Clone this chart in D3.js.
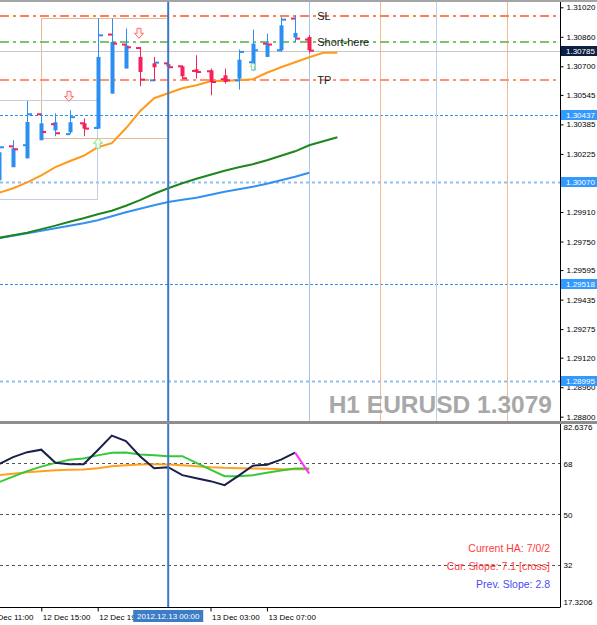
<!DOCTYPE html>
<html>
<head>
<meta charset="utf-8">
<title>H1 EURUSD</title>
<script src="https://cdn.jsdelivr.net/npm/d3@7/dist/d3.min.js"></script>
<style>
  body { margin: 0; background: #fff; }
  svg { display: block; font-family: 'Liberation Sans', Arial, sans-serif; }
</style>
</head>
<body>
<div id="chart"></div>
<script>
// ---
// Data
// ---
const title = 'H1 EURUSD 1.3079'
const firstBar = new Date(Date.UTC(2012, 11, 12, 12))

// price bars, 12 Dec 12:00 .. 13 Dec 10:00
const opens = [1.30163, 1.30266, 1.30272, 1.30440, 1.30386, 1.30332, 1.30391, 1.30366, 1.30872, 1.30818, 1.30799, 1.30624, 1.30716, 1.30700, 1.30675, 1.30673, 1.30630, 1.30624, 1.30722, 1.30823, 1.30787, 1.30959, 1.30845]
const highs = [1.30272, 1.30299, 1.30512, 1.30445, 1.30445, 1.30462, 1.30417, 1.30959, 1.30959, 1.30905, 1.30805, 1.30751, 1.30722, 1.30706, 1.30760, 1.30688, 1.30688, 1.30791, 1.30899, 1.30877, 1.30967, 1.30977, 1.30868]
const lows = [1.30077, 1.30153, 1.30201, 1.30299, 1.30321, 1.30332, 1.30321, 1.30362, 1.30552, 1.30688, 1.30592, 1.30619, 1.30689, 1.30630, 1.30633, 1.30543, 1.30606, 1.30574, 1.30678, 1.30751, 1.30778, 1.30832, 1.30772]
const closes = [1.30261, 1.30250, 1.30440, 1.30344, 1.30337, 1.30424, 1.30362, 1.30868, 1.30823, 1.30803, 1.30628, 1.30720, 1.30695, 1.30635, 1.30669, 1.30615, 1.30624, 1.30778, 1.30787, 1.30818, 1.30953, 1.30850, 1.30785]
const haOpens = [1.30082, 1.30153, 1.30201, 1.30299, 1.30353, 1.30342, 1.30391, 1.30362, 1.30552, 1.30688, 1.30751, 1.30716, 1.30711, 1.30700, 1.30684, 1.30678, 1.30651, 1.30633, 1.30678, 1.30751, 1.30787, 1.30856, 1.30859]
const haCloses = [1.30234, 1.30256, 1.30398, 1.30391, 1.30397, 1.30397, 1.30362, 1.30751, 1.30832, 1.30814, 1.30669, 1.30695, 1.30700, 1.30646, 1.30668, 1.30615, 1.30615, 1.30736, 1.30823, 1.30823, 1.30922, 1.30881, 1.30787]

// moving averages (orange and green are shifted 2 bars forward)
const maOrange = [1.30014, 1.30039, 1.30071, 1.30109, 1.30153, 1.30185, 1.30215, 1.30261, 1.30283, 1.30364, 1.30456, 1.30527, 1.30554, 1.30581, 1.30597, 1.30619, 1.30622, 1.30624, 1.30630, 1.30665, 1.30695, 1.30722, 1.30749, 1.30773, 1.30773]
const maGreen = [1.29770, 1.29784, 1.29798, 1.29817, 1.29836, 1.29857, 1.29876, 1.29898, 1.29917, 1.29944, 1.29974, 1.30009, 1.30039, 1.30066, 1.30090, 1.30112, 1.30134, 1.30153, 1.30169, 1.30191, 1.30215, 1.30239, 1.30272, 1.30294, 1.30315]
const maBlue = [1.29768, 1.29781, 1.29795, 1.29808, 1.29822, 1.29836, 1.29849, 1.29865, 1.29887, 1.29909, 1.29928, 1.29947, 1.29964, 1.29976, 1.29987, 1.30004, 1.30020, 1.30033, 1.30047, 1.30063, 1.30082, 1.30101, 1.30123]

// lower panel
const indNavy = [67.75, 70.22, 71.99, 72.87, 68.28, 67.75, 67.75, 72.69, 77.81, 75.87, 70.58, 66.34, 66.69, 63.87, 62.81, 61.75, 60.34, 63.69, 67.22, 67.58, 69.34, 71.81]
const indNavyLast = [71.81, 64.40]
const indGreen = [61.40, 63.34, 65.28, 66.87, 68.21, 69.34, 69.76, 70.86, 71.81, 71.88, 71.18, 70.93, 70.58, 70.58, 68.21, 65.81, 63.52, 63.52, 63.87, 64.75, 65.53, 66.24, 66.24]
const indOrange = [63.87, 64.40, 64.93, 65.28, 65.64, 65.74, 65.88, 66.34, 67.05, 67.40, 67.65, 67.68, 67.65, 67.40, 67.05, 66.69, 66.45, 66.34, 66.24, 66.09, 65.99, 65.99, 65.99]
const indLevels = [68, 50, 32]
const indRange = [17.3206, 82.6376]
const indNotes = ['Current HA: 7/0/2', 'Cur. Slope: 7.1 [cross]', 'Prev. Slope: 2.8']

// levels and objects
const priceTicks = [1.31020, 1.30860, 1.30700, 1.30545, 1.30385, 1.30225, 1.30070, 1.29910, 1.29750, 1.29595, 1.29435, 1.29275, 1.29120, 1.28960, 1.28800]
const tradeLevels = [1.30975, 1.30830, 1.30627]
const tradeLabels = ['SL', 'Short-here', 'TP']
const zoneLevels = [1.30437, 1.30070, 1.29518, 1.28995]
const currentPrice = 1.30785
const boxes = [
  {t0: Date.UTC(2012, 11, 12, 15), t1: Date.UTC(2012, 11, 13, 0), p0: 1.30960, p1: 1.30310},
  {t0: Date.UTC(2012, 11, 12, 6), t1: Date.UTC(2012, 11, 12, 19), p0: 1.30516, p1: 1.29979}
]
const sessionMarks = [Date.UTC(2012, 11, 13, 15), Date.UTC(2012, 11, 13, 19), Date.UTC(2012, 11, 14, 0)]
const cursorTime = Date.UTC(2012, 11, 13, 0)
const downSignals = [[Date.UTC(2012, 11, 12, 17), 1.30537], [Date.UTC(2012, 11, 12, 22), 1.30879]]
const upSignals = [[Date.UTC(2012, 11, 12, 19), 1.30283], [Date.UTC(2012, 11, 13, 6), 1.30700]]
const timeTicks = [Date.UTC(2012, 11, 12, 11), Date.UTC(2012, 11, 12, 15), Date.UTC(2012, 11, 12, 19), Date.UTC(2012, 11, 13, 3), Date.UTC(2012, 11, 13, 7)]

// ---
// Layout
// ---
const width = 597
const height = 625
const plotRight = 560
const mainTop = 2
const mainBottom = 421
const subTop = 424
const subBottom = 607

const blue = '#2b8ef0'
const red = '#f5215a'

const barTimes = d3.utcHour.range(firstBar, d3.utcHour.offset(firstBar, opens.length))
const maTimes = d3.utcHour.range(firstBar, d3.utcHour.offset(firstBar, maOrange.length))
const lastBar = barTimes[barTimes.length - 1]

// Scales
const x = d3.scaleUtc()
  .domain([new Date(Date.UTC(2012, 11, 12, 15)), new Date(Date.UTC(2012, 11, 13, 10))])
  .range([41.3, 309.2])

const y = d3.scaleLinear()
  .domain([1.28800, 1.31020])
  .range([416.7, 7.3])

const yInd = d3.scaleLinear()
  .domain(indRange)
  .range([subBottom, 422])

const svg = d3.select('#chart').append('svg')
  .attr('width', width)
  .attr('height', height)

const defs = svg.append('defs')
defs.append('clipPath').attr('id', 'clipMain')
  .append('rect').attr('x', 0).attr('y', mainTop).attr('width', plotRight).attr('height', mainBottom - mainTop)
defs.append('clipPath').attr('id', 'clipSub')
  .append('rect').attr('x', 0).attr('y', subTop).attr('width', plotRight).attr('height', subBottom - subTop)

svg.append('rect')
  .attr('width', width).attr('height', 2)
  .attr('fill', '#a4a4a4')

// ---
// Main panel
// ---
const main = svg.append('g').attr('clip-path', 'url(#clipMain)')

main.selectAll('.zone')
  .data(zoneLevels)
  .join('line')
    .attr('x1', 0).attr('x2', plotRight)
    .attr('y1', d => Math.round(y(d)) + 0.5)
    .attr('y2', d => Math.round(y(d)) + 0.5)
    .attr('stroke', (d, i) => i % 2 ? '#8ec0f3' : '#2f8ff0')
    .attr('stroke-width', (d, i) => i % 2 ? 2 : 1)
    .attr('stroke-dasharray', (d, i) => i % 2 ? '3,3' : '3,2')

main.selectAll('.box')
  .data(boxes)
  .join('rect')
    .attr('x', d => Math.round(x(d.t0)) + 0.5)
    .attr('y', d => Math.round(y(d.p0)) + 0.5)
    .attr('width', d => Math.round(x(d.t1) - x(d.t0)))
    .attr('height', d => Math.round(y(d.p1) - y(d.p0)))
    .attr('fill', 'none')
    .attr('stroke', (d, i) => i ? '#c3cfe0' : '#e9b994')

main.selectAll('.session')
  .data(sessionMarks)
  .join('line')
    .attr('x1', d => Math.round(x(d)) + 0.5)
    .attr('x2', d => Math.round(x(d)) + 0.5)
    .attr('y1', mainTop).attr('y2', mainBottom)
    .attr('stroke', (d, i) => i === 1 ? '#bed0ec' : '#f5b893')

main.append('line')
  .attr('x1', Math.round(x(lastBar)) + 0.5)
  .attr('x2', Math.round(x(lastBar)) + 0.5)
  .attr('y1', mainTop).attr('y2', mainBottom)
  .attr('stroke', '#a9c5ea')

main.append('line')
  .attr('x1', 0).attr('x2', plotRight)
  .attr('y1', Math.round(y(currentPrice)) + 0.5)
  .attr('y2', Math.round(y(currentPrice)) + 0.5)
  .attr('stroke', '#c8c8c8')

main.selectAll('.trade')
  .data(tradeLevels)
  .join('line')
    .attr('x1', 0).attr('x2', plotRight)
    .attr('y1', d => Math.round(y(d)))
    .attr('y2', d => Math.round(y(d)))
    .attr('stroke', (d, i) => ['#ff5a1f', '#7cc46c', '#ff9474'][i])
    .attr('stroke-width', (d, i) => i ? 2 : 1.5)
    .attr('stroke-dasharray', '9,4,3,4')

// Moving averages
const maLine = d3.line()
  .x(d => x(d[0]))
  .y(d => y(d[1]))

const maSeries = [
  {values: maBlue, color: '#3391f0'},
  {values: maGreen, color: '#1f861f'},
  {values: maOrange, color: '#ff9a1c'}
]

main.selectAll('.ma')
  .data(maSeries)
  .join('path')
    .attr('d', s => maLine(s.values.map((v, i) => [maTimes[i], v])))
    .attr('fill', 'none')
    .attr('stroke', s => s.color)
    .attr('stroke-width', 2)

// Bars
const bars = barTimes.map((t, i) => ({
  t, o: opens[i], h: highs[i], l: lows[i], c: closes[i], ho: haOpens[i], hc: haCloses[i]
}))

const bar = main.selectAll('.bar')
  .data(bars)
  .join('g')
    .attr('transform', d => `translate(${Math.round(x(d.t))},0)`)

bar.append('line')
  .attr('x1', 0.5).attr('x2', 0.5)
  .attr('y1', d => y(d.h)).attr('y2', d => y(d.l))
  .attr('stroke', d => d.hc >= d.ho ? blue : red)

bar.append('rect')
  .attr('x', -1.5).attr('width', 4)
  .attr('y', d => y(Math.max(d.ho, d.hc)))
  .attr('height', d => Math.max(1, Math.abs(y(d.ho) - y(d.hc))))
  .attr('fill', d => d.hc >= d.ho ? blue : red)

bar.append('line')
  .attr('x1', -4).attr('x2', 0)
  .attr('y1', d => y(d.o)).attr('y2', d => y(d.o))
  .attr('stroke', d => d.c >= d.o ? blue : red)
  .attr('stroke-width', 2)

bar.append('line')
  .attr('x1', 1).attr('x2', 5)
  .attr('y1', d => y(d.c)).attr('y2', d => y(d.c))
  .attr('stroke', d => d.c >= d.o ? blue : red)
  .attr('stroke-width', 2)

// Signal arrows
const arrowDown = 'M-2,-5 L2,-5 L2,0 L4.5,0 L0,5 L-4.5,0 L-2,0 Z'
const arrowUp = 'M-2,5 L2,5 L2,0 L4.5,0 L0,-5 L-4.5,0 L-2,0 Z'

main.selectAll('.down')
  .data(downSignals)
  .join('path')
    .attr('d', arrowDown)
    .attr('transform', d => `translate(${Math.round(x(d[0])) - 1},${y(d[1])})`)
    .attr('fill', '#fff0f0')
    .attr('stroke', '#ff6a6a')

main.selectAll('.up')
  .data(upSignals)
  .join('path')
    .attr('d', arrowUp)
    .attr('transform', (d, i) => `translate(${Math.round(x(d[0]))},${y(d[1])}) scale(${i ? 0.7 : 1})`)
    .attr('fill', '#f0fff0')
    .attr('stroke', '#86dc86')

main.selectAll('.tradeLabel')
  .data(tradeLevels)
  .join('text')
    .attr('x', x(lastBar) + 8)
    .attr('y', d => y(d) + 4)
    .attr('font-size', 11)
    .attr('fill', '#222')
    .text((d, i) => tradeLabels[i])

main.append('text')
  .attr('x', 552)
  .attr('y', 413)
  .attr('text-anchor', 'end')
  .attr('font-size', 24.5)
  .attr('font-weight', 'bold')
  .attr('fill', '#a8a8a8')
  .text(title)

// ---
// Indicator panel
// ---
const sub = svg.append('g').attr('clip-path', 'url(#clipSub)')

sub.selectAll('.lvl')
  .data(indLevels)
  .join('line')
    .attr('x1', 0).attr('x2', plotRight)
    .attr('y1', d => Math.round(yInd(d)) + 0.5)
    .attr('y2', d => Math.round(yInd(d)) + 0.5)
    .attr('stroke', '#555')
    .attr('stroke-dasharray', '3,3')

const indLine = d3.line()
  .x(d => x(d[0]))
  .y(d => yInd(d[1]))

const indSeries = [
  {values: indOrange, color: '#ffa020', offset: 0},
  {values: indGreen, color: '#37c837', offset: 0},
  {values: indNavy, color: '#1b1f4b', offset: 0},
  {values: indNavyLast, color: '#ff33ff', offset: indNavy.length - 1}
]

sub.selectAll('.ind')
  .data(indSeries)
  .join('path')
    .attr('d', s => indLine(s.values.map((v, i) => [barTimes[i + s.offset], v])))
    .attr('fill', 'none')
    .attr('stroke', s => s.color)
    .attr('stroke-width', 2)

sub.selectAll('.note')
  .data(indNotes)
  .join('text')
    .attr('x', 550)
    .attr('y', (d, i) => 551.5 + i * 18)
    .attr('text-anchor', 'end')
    .attr('font-size', 10.5)
    .attr('fill', (d, i) => i < 2 ? '#ff3b3b' : '#4a4af5')
    .text(d => d)

// Cursor line across both panels
svg.append('line')
  .attr('x1', x(cursorTime)).attr('x2', x(cursorTime))
  .attr('y1', mainTop).attr('y2', subBottom)
  .attr('stroke', '#3a78c6')
  .attr('stroke-width', 2)

// Panel separator
svg.append('rect')
  .attr('x', 0).attr('y', mainBottom)
  .attr('width', width).attr('height', 3)
  .attr('fill', '#8e8e8e')

// ---
// Axes
// ---
const priceAxis = d3.axisRight(y)
  .tickValues(priceTicks)
  .tickSize(3)
  .tickPadding(3)
  .tickFormat(d3.format('.5f'))

const gPrice = svg.append('g')
  .attr('transform', `translate(${plotRight + 0.5},0)`)
  .call(priceAxis)
gPrice.select('.domain').attr('d', `M0,${mainTop}V${mainBottom}`)

const indAxis = d3.axisRight(yInd)
  .tickValues([indRange[0], ...indLevels.slice().reverse(), indRange[1]])
  .tickSize(0)
  .tickPadding(3)
  .tickFormat(d => indRange.includes(d) ? d3.format('.4f')(d) : d)

const gInd = svg.append('g')
  .attr('transform', `translate(${plotRight + 0.5},0)`)
  .call(indAxis)
gInd.select('.domain').attr('d', `M0,${subTop}V${subBottom}`)
gInd.selectAll('.tick text')
  .attr('dy', d => d === indRange[1] ? '0.95em' : d === indRange[0] ? '-0.3em' : '0.32em')

const timeAxis = d3.axisBottom(x)
  .tickValues(timeTicks.map(t => new Date(t)))
  .tickSize(4)
  .tickPadding(3)
  .tickFormat(d3.utcFormat('%d %b %H:%M'))

const gTime = svg.append('g')
  .attr('transform', `translate(0,${subBottom + 0.5})`)
  .call(timeAxis)
gTime.select('.domain').attr('d', `M0,0H${plotRight + 0.5}`)
gTime.selectAll('.tick text').attr('text-anchor', 'start').attr('dx', 1)

svg.selectAll('.tick text').attr('font-size', 8).attr('fill', '#000').attr('font-family', null)
svg.selectAll('.domain, .tick line').attr('stroke', '#000')

// Highlighted price labels
const tags = [
  ...zoneLevels.map(p => ({p, fill: '#3399ff'})),
  {p: currentPrice, fill: '#0d1f45'}
]

const tag = svg.selectAll('.tag')
  .data(tags)
  .join('g')
    .attr('transform', d => `translate(${plotRight + 1},${Math.round(y(d.p))})`)

tag.append('rect')
  .attr('x', 0).attr('y', -5)
  .attr('width', width - plotRight).attr('height', 10)
  .attr('fill', d => d.fill)

tag.append('text')
  .attr('x', 5).attr('y', 3)
  .attr('font-size', 8)
  .attr('fill', '#fff')
  .text(d => d3.format('.5f')(d.p))

// Highlighted cursor time
const cursorLabel = d3.utcFormat('%Y.%m.%d %H:%M')(new Date(cursorTime))
svg.append('rect')
  .attr('x', x(cursorTime) - 35).attr('y', 610)
  .attr('width', 70).attr('height', 12)
  .attr('fill', '#3d7cc6')
svg.append('text')
  .attr('x', x(cursorTime)).attr('y', 619)
  .attr('text-anchor', 'middle')
  .attr('font-size', 8)
  .attr('fill', '#fff')
  .text(cursorLabel)
</script>
</body>
</html>
